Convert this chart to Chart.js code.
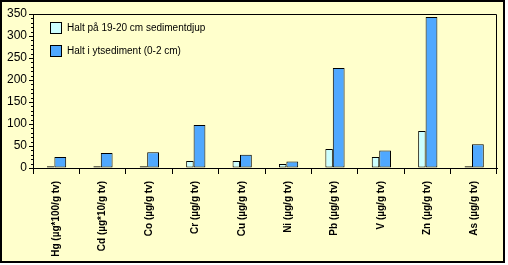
<!DOCTYPE html>
<html>
<head>
<meta charset="utf-8">
<script src="https://cdn.jsdelivr.net/npm/chart.js@4/dist/chart.umd.min.js"></script>
<style>
  html, body { margin: 0; padding: 0; background: #ffffff; }
  #frame { position: absolute; left: 0; top: 0; width: 501px; height: 259px;
           border: 2px solid #000; background: #FFFFCC; }
  #c { position: absolute; left: 0; top: 0; }
  .lg { position: absolute; font: 10px "Liberation Sans", Arial, sans-serif; color: #000; white-space: nowrap; }
  .sw { position: absolute; width: 10px; height: 10px; border: 1px solid #000; }
</style>
</head>
<body>
<div id="frame">
  <canvas id="c" width="501" height="259"></canvas>
</div>
<div id="legend"></div>
<script>
const categories = ["Hg (µg*100/g tv)", "Cd (µg*10/g tv)", "Co (µg/g tv)", "Cr (µg/g tv)", "Cu (µg/g tv)",
                    "Ni (µg/g tv)", "Pb (µg/g tv)", "V (µg/g tv)", "Zn (µg/g tv)", "As (µg/g tv)"];
const deepValues = [4, 4, 4, 16, 16, 9, 43, 25, 84, 4];
const surfaceValues = [25, 34, 36, 98, 30, 15, 227, 40, 343, 54];
const seriesNames = ["Halt på 19-20 cm sedimentdjup", "Halt i ytsediment (0-2 cm)"];
const seriesColors = ["#CCFFFF", "#4FA8FF"];
const yMin = 0, yMax = 350, yStep = 50, yMinorStep = 10;

const frameOutline = {
  id: 'frameOutline',
  afterDraw(chart) {
    const ctx = chart.ctx, a = chart.chartArea, y = chart.scales.y;
    ctx.save();
    ctx.strokeStyle = '#000';
    ctx.lineWidth = 1;
    ctx.beginPath();
    ctx.moveTo(Math.round(a.left) + 0.5, Math.round(a.top) + 0.5);
    ctx.lineTo(Math.round(a.right) - 0.5, Math.round(a.top) + 0.5);
    ctx.lineTo(Math.round(a.right) - 0.5, Math.round(a.bottom) + 0.5);
    ctx.stroke();
    // minor ticks on the value axis
    ctx.beginPath();
    for (let v = yMin + yMinorStep; v < yMax; v += yMinorStep) {
      if (v % yStep === 0) continue;
      const py = Math.round(y.getPixelForValue(v)) + 0.5;
      ctx.moveTo(a.left - 2, py);
      ctx.lineTo(a.left, py);
    }
    ctx.stroke();
    ctx.restore();
  }
};

const chart = new Chart(document.getElementById('c'), {
  type: 'bar',
  data: {
    labels: categories,
    datasets: [
      { label: seriesNames[0], data: deepValues, backgroundColor: seriesColors[0],
        borderColor: '#000', borderWidth: 1, categoryPercentage: 0.474, barPercentage: 0.68,
        borderSkipped: false },
      { label: seriesNames[1], data: surfaceValues, backgroundColor: seriesColors[1],
        borderColor: '#000', borderWidth: 1, categoryPercentage: 0.353, barPercentage: 1.44,
        borderSkipped: false }
    ]
  },
  options: {
    responsive: false,
    animation: false,
    events: [],
    layout: { padding: { top: 12, right: 6, left: 0, bottom: 0 } },
    plugins: { legend: { display: false }, tooltip: { enabled: false } },
    scales: {
      x: {
        offset: true,
        grid: { display: true, offset: true, drawOnChartArea: false, drawTicks: true,
                tickLength: 6, color: '#000', lineWidth: 1 },
        border: { display: true, color: '#000', width: 1 },
        ticks: { minRotation: 90, maxRotation: 90, autoSkip: false, padding: 7, color: '#000',
                 font: { family: '"Liberation Sans", Arial, sans-serif', size: 10, weight: 'bold' } },
        afterFit(scale) { scale.height = 93; }
      },
      y: {
        min: yMin, max: yMax,
        grid: { display: true, drawOnChartArea: false, drawTicks: true, tickLength: 4,
                color: '#000', lineWidth: 1 },
        border: { display: true, color: '#000', width: 1 },
        ticks: { stepSize: yStep, padding: 2, color: '#000',
                 font: { family: '"Liberation Sans", Arial, sans-serif', size: 12 } },
        afterFit(scale) { scale.width = 31; }
      }
    }
  },
  plugins: [frameOutline]
});

// legend inside plot area (HTML text)
const lg = document.getElementById('legend');
seriesNames.forEach((name, i) => {
  const top = 22 + i * 23;
  const sw = document.createElement('div');
  sw.className = 'sw';
  sw.style.left = '50px'; sw.style.top = top + 'px';
  sw.style.background = seriesColors[i];
  lg.appendChild(sw);
  const t = document.createElement('div');
  t.className = 'lg';
  t.style.left = '67px'; t.style.top = (top) + 'px';
  t.style.lineHeight = '12px';
  t.textContent = name;
  lg.appendChild(t);
});
</script>
</body>
</html>
